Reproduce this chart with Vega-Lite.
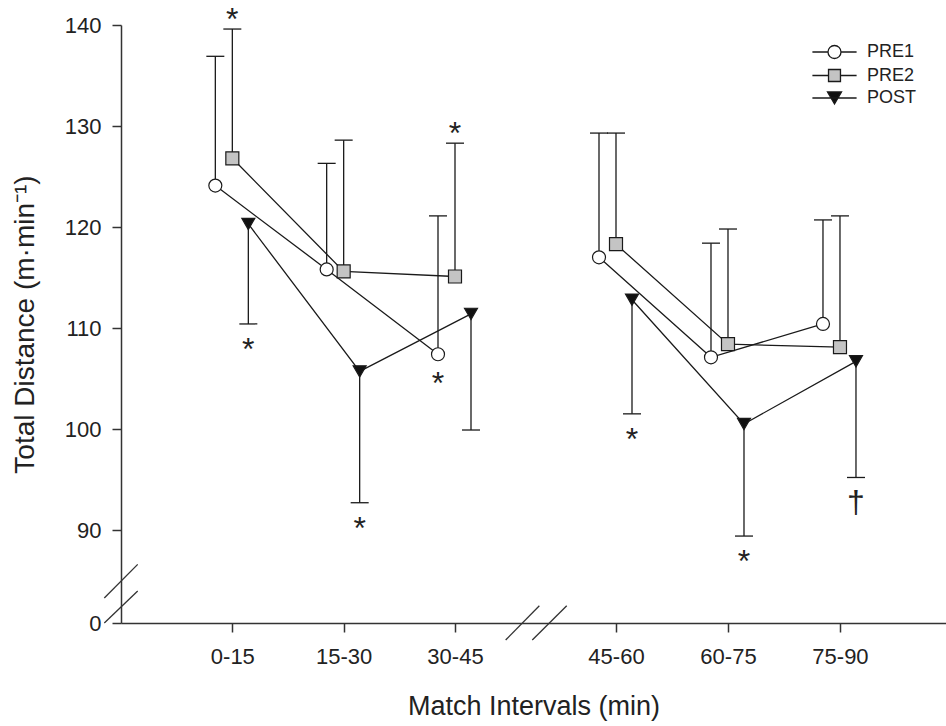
{
  "$schema": "https://vega.github.io/schema/vega-lite/v6.json",
  "width": 825,
  "height": 598,
  "autosize": "none",
  "padding": {"left": 121, "top": 25, "right": 0, "bottom": 103},
  "background": "white",
  "config": {"view": {"stroke": null}, "font": "Liberation Sans"},
  "datasets": {
    "stats": [
      {"interval": "0-15", "mid": 7.5, "half": "first", "series": "PRE1", "mean": 124.1, "err": 136.9, "sig": "", "anchor": ""},
      {"interval": "0-15", "mid": 7.5, "half": "first", "series": "PRE2", "mean": 126.8, "err": 139.6, "sig": "*", "anchor": "cap"},
      {"interval": "0-15", "mid": 7.5, "half": "first", "series": "POST", "mean": 120.3, "err": 110.4, "sig": "*", "anchor": "cap"},
      {"interval": "15-30", "mid": 22.5, "half": "first", "series": "PRE1", "mean": 115.8, "err": 126.3, "sig": "", "anchor": ""},
      {"interval": "15-30", "mid": 22.5, "half": "first", "series": "PRE2", "mean": 115.6, "err": 128.6, "sig": "", "anchor": ""},
      {"interval": "15-30", "mid": 22.5, "half": "first", "series": "POST", "mean": 105.7, "err": 92.7, "sig": "*", "anchor": "cap"},
      {"interval": "30-45", "mid": 37.5, "half": "first", "series": "PRE1", "mean": 107.4, "err": 121.1, "sig": "*", "anchor": "mean"},
      {"interval": "30-45", "mid": 37.5, "half": "first", "series": "PRE2", "mean": 115.1, "err": 128.3, "sig": "*", "anchor": "cap"},
      {"interval": "30-45", "mid": 37.5, "half": "first", "series": "POST", "mean": 111.4, "err": 99.9, "sig": "", "anchor": ""},
      {"interval": "45-60", "mid": 52.5, "half": "second", "series": "PRE1", "mean": 117.0, "err": 129.3, "sig": "", "anchor": ""},
      {"interval": "45-60", "mid": 52.5, "half": "second", "series": "PRE2", "mean": 118.3, "err": 129.3, "sig": "", "anchor": ""},
      {"interval": "45-60", "mid": 52.5, "half": "second", "series": "POST", "mean": 112.8, "err": 101.5, "sig": "*", "anchor": "cap"},
      {"interval": "60-75", "mid": 67.5, "half": "second", "series": "PRE1", "mean": 107.1, "err": 118.4, "sig": "", "anchor": ""},
      {"interval": "60-75", "mid": 67.5, "half": "second", "series": "PRE2", "mean": 108.4, "err": 119.8, "sig": "", "anchor": ""},
      {"interval": "60-75", "mid": 67.5, "half": "second", "series": "POST", "mean": 100.5, "err": 89.4, "sig": "*", "anchor": "cap"},
      {"interval": "75-90", "mid": 82.5, "half": "second", "series": "PRE1", "mean": 110.4, "err": 120.7, "sig": "", "anchor": ""},
      {"interval": "75-90", "mid": 82.5, "half": "second", "series": "PRE2", "mean": 108.1, "err": 121.1, "sig": "", "anchor": ""},
      {"interval": "75-90", "mid": 82.5, "half": "second", "series": "POST", "mean": 106.7, "err": 95.2, "sig": "†", "anchor": "cap"}
    ],
    "breaks": [
      {"mid": -9.75, "mid2": -5.25, "mean": 64.8, "mean2": 86.6},
      {"mid": -9.75, "mid2": -5.25, "mean": 0, "mean2": 83.0},
      {"mid": 42.22, "mid2": 45.36, "mean": -44.1, "mean2": 44.9},
      {"mid": 44.70, "mid2": 47.91, "mean": -44.1, "mean2": 44.9}
    ]
  },
  "resolve": {"scale": {"shape": "independent", "fill": "independent", "stroke": "independent"}, "legend": {"shape": "independent", "fill": "independent", "stroke": "independent"}},
  "layer": [
    {
      "data": {"name": "stats"},
      "mark": {"type": "line", "stroke": "#1a1a1a", "strokeWidth": 1.3, "xOffset": {"expr": "datum.series == 'PRE1' ? -17 : datum.series == 'POST' ? 16 : 0"}},
      "encoding": {
        "x": {
          "field": "mid", "type": "quantitative", "title": "Match Intervals (min)",
          "scale": {"domain": [-7.5, 37.5, 52.5, 96.7], "range": [0, 334, 495, 825], "nice": false, "zero": false},
          "axis": {
            "values": [7.5, 22.5, 37.5, 52.5, 67.5, 82.5],
            "labelExpr": "{'7.5':'0-15','22.5':'15-30','37.5':'30-45','52.5':'45-60','67.5':'60-75','82.5':'75-90'}[datum.value]",
            "grid": false, "domainColor": "#333333", "domainWidth": 1.5, "tickColor": "#333333", "tickWidth": 1.5, "tickSize": 9,
            "labelFontSize": 22, "labelColor": "#222222", "labelPadding": 14, "labelFont": "Liberation Sans",
            "titleFontSize": 27, "titleFontWeight": "normal", "titleColor": "#222222", "titlePadding": 26, "titleFont": "Liberation Sans"
          }
        },
        "y": {
          "field": "mean", "type": "quantitative", "title": "Total Distance (m·min⁻¹)",
          "scale": {"domain": [0, 84, 140], "range": [598, 565.6, 0], "nice": false, "zero": false},
          "axis": {
            "values": [0, 90, 100, 110, 120, 130, 140],
            "grid": false, "domainColor": "#333333", "domainWidth": 1.5, "tickColor": "#333333", "tickWidth": 1.5, "tickSize": 9,
            "labelFontSize": 22, "labelColor": "#222222", "labelPadding": 11, "labelFont": "Liberation Sans",
            "titleFontSize": 28, "titleFontWeight": "normal", "titleColor": "#222222", "titlePadding": 25, "titleFont": "Liberation Sans"
          }
        },
        "detail": [{"field": "series", "type": "nominal"}, {"field": "half", "type": "nominal"}]
      }
    },
    {
      "data": {"name": "stats"},
      "mark": {"type": "rule", "stroke": "#1a1a1a", "strokeWidth": 1.3, "xOffset": {"expr": "datum.series == 'PRE1' ? -17 : datum.series == 'POST' ? 16 : 0"}},
      "encoding": {
        "x": {"field": "mid", "type": "quantitative", "title": "Match Intervals (min)"},
        "y": {"field": "mean", "type": "quantitative", "title": "Total Distance (m·min⁻¹)"},
        "y2": {"field": "err"}
      }
    },
    {
      "data": {"name": "stats"},
      "mark": {"type": "tick", "orient": "horizontal", "size": 18, "thickness": 1.3, "color": "#1a1a1a", "opacity": 1, "xOffset": {"expr": "datum.series == 'PRE1' ? -17 : datum.series == 'POST' ? 16 : 0"}},
      "encoding": {
        "x": {"field": "mid", "type": "quantitative", "title": "Match Intervals (min)"},
        "y": {"field": "err", "type": "quantitative", "title": "Total Distance (m·min⁻¹)"}
      }
    },
    {
      "data": {"name": "stats"},
      "mark": {"type": "point", "filled": true, "size": 169, "stroke": "#1a1a1a", "strokeWidth": 1.2, "opacity": 1, "xOffset": {"expr": "datum.series == 'PRE1' ? -17 : datum.series == 'POST' ? 16 : 0"}},
      "encoding": {
        "x": {"field": "mid", "type": "quantitative", "title": "Match Intervals (min)"},
        "y": {"field": "mean", "type": "quantitative", "title": "Total Distance (m·min⁻¹)"},
        "shape": {"field": "series", "type": "nominal", "scale": {"domain": ["PRE1", "PRE2", "POST"], "range": ["circle", "square", "triangle-down"]}, "legend": null},
        "fill": {"field": "series", "type": "nominal", "scale": {"domain": ["PRE1", "PRE2", "POST"], "range": ["#ffffff", "#c4c4c4", "#111111"]}, "legend": null}
      }
    },
    {
      "data": {"name": "stats"},
      "transform": [{"filter": "false"}],
      "mark": {"type": "point", "filled": true, "size": 169, "strokeWidth": 1.3, "opacity": 1},
      "encoding": {
        "x": {"field": "mid", "type": "quantitative", "title": "Match Intervals (min)"},
        "y": {"field": "mean", "type": "quantitative", "title": "Total Distance (m·min⁻¹)"},
        "shape": {"field": "series", "type": "nominal",
          "scale": {"domain": ["PRE1", "PRE2", "POST"], "range": ["M-3.4,0L-1,0M1,0L3.4,0M-1,0A1,1,0,1,0,1,0A1,1,0,1,0,-1,0Z", "M-3.4,0L-0.92,0M0.92,0L3.4,0M-0.92,-0.92L0.92,-0.92L0.92,0.92L-0.92,0.92Z", "M-3.4,0L3.4,0M0,0.93L-1.08,-0.93L1.08,-0.93Z"]},
          "legend": {"title": null, "orient": "none", "legendX": 704.5, "legendY": 18, "padding": 0, "labelFontSize": 18, "labelColor": "#222222", "labelFont": "Liberation Sans", "labelOffset": 23.5, "rowPadding": 4.5, "symbolSize": 169, "symbolStrokeWidth": 1.3}
        },
        "fill": {"field": "series", "type": "nominal",
          "scale": {"domain": ["PRE1", "PRE2", "POST"], "range": ["#ffffff", "#c4c4c4", "#111111"]},
          "legend": {"title": null, "orient": "none", "legendX": 704.5, "legendY": 18, "padding": 0, "labelFontSize": 18, "labelColor": "#222222", "labelFont": "Liberation Sans", "labelOffset": 23.5, "rowPadding": 4.5, "symbolSize": 169, "symbolStrokeWidth": 1.3}
        },
        "stroke": {"field": "series", "type": "nominal",
          "scale": {"domain": ["PRE1", "PRE2", "POST"], "range": ["#1a1a1a", "#1a1a1a", "#1a1a1a"]},
          "legend": {"title": null, "orient": "none", "legendX": 704.5, "legendY": 18, "padding": 0, "labelFontSize": 18, "labelColor": "#222222", "labelFont": "Liberation Sans", "labelOffset": 23.5, "rowPadding": 4.5, "symbolSize": 169, "symbolStrokeWidth": 1.3}
        }
      }
    },
    {
      "data": {"name": "stats"},
      "transform": [{"filter": "datum.sig != '' && datum.series != 'POST' && datum.anchor == 'cap'"}],
      "mark": {"type": "text", "font": "Liberation Sans", "fontSize": 32, "baseline": "alphabetic", "align": "center", "dy": 1, "color": "#222222", "xOffset": {"expr": "datum.series == 'PRE1' ? -17 : datum.series == 'POST' ? 16 : 0"}},
      "encoding": {
        "x": {"field": "mid", "type": "quantitative", "title": "Match Intervals (min)"},
        "y": {"field": "err", "type": "quantitative", "title": "Total Distance (m·min⁻¹)"},
        "text": {"field": "sig"}
      }
    },
    {
      "data": {"name": "stats"},
      "transform": [{"filter": "datum.sig != '' && datum.series == 'POST'"}],
      "mark": {"type": "text", "font": "Liberation Sans", "fontSize": 32, "baseline": "alphabetic", "align": "center", "dy": 36, "color": "#222222", "xOffset": {"expr": "datum.series == 'PRE1' ? -17 : datum.series == 'POST' ? 16 : 0"}},
      "encoding": {
        "x": {"field": "mid", "type": "quantitative", "title": "Match Intervals (min)"},
        "y": {"field": "err", "type": "quantitative", "title": "Total Distance (m·min⁻¹)"},
        "text": {"field": "sig"}
      }
    },
    {
      "data": {"name": "stats"},
      "transform": [{"filter": "datum.anchor == 'mean'"}],
      "mark": {"type": "text", "font": "Liberation Sans", "fontSize": 32, "baseline": "alphabetic", "align": "center", "dy": 40, "color": "#222222", "xOffset": {"expr": "datum.series == 'PRE1' ? -17 : datum.series == 'POST' ? 16 : 0"}},
      "encoding": {
        "x": {"field": "mid", "type": "quantitative", "title": "Match Intervals (min)"},
        "y": {"field": "mean", "type": "quantitative", "title": "Total Distance (m·min⁻¹)"},
        "text": {"field": "sig"}
      }
    },
    {
      "data": {"name": "breaks"},
      "mark": {"type": "rule", "stroke": "#333333", "strokeWidth": 1.3},
      "encoding": {
        "x": {"field": "mid", "type": "quantitative", "title": "Match Intervals (min)"},
        "x2": {"field": "mid2"},
        "y": {"field": "mean", "type": "quantitative", "title": "Total Distance (m·min⁻¹)"},
        "y2": {"field": "mean2"}
      }
    }
  ]
}
